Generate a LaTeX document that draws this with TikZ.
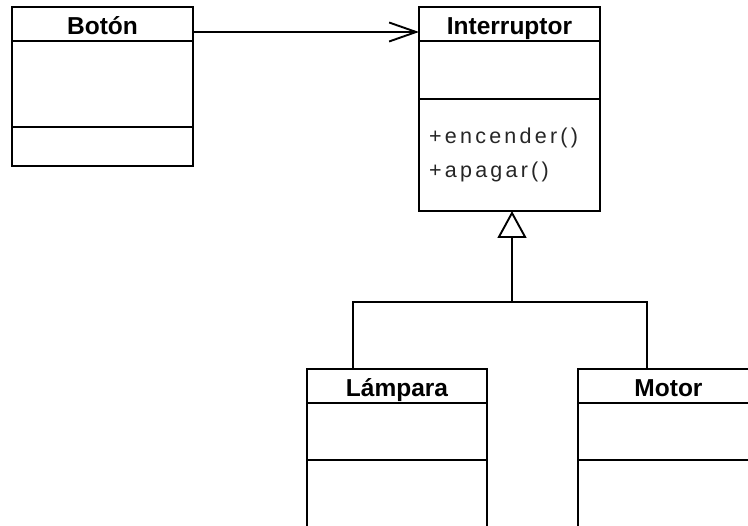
\documentclass[tikz,border=0pt]{standalone}
\usepackage{fontspec}
\setmainfont{Liberation Sans}
\newfontfamily\opfont[LetterSpace=15]{Liberation Sans}
\usetikzlibrary{arrows.meta}
\tikzset{
  classbox/.style={draw=black, line width=1.9pt, rectangle, outer sep=0pt,
    inner sep=0pt, anchor=north west},
  classname/.style={font=\bfseries\fontsize{24.5}{29}\selectfont, anchor=base,
    inner sep=0pt},
  operation/.style={font=\opfont\fontsize{21.5}{25}\selectfont, anchor=base west,
    inner sep=0pt, text=black!85},
  divider/.style={line width=1.9pt},
  assoc/.style={line width=1.9pt, -{Straight Barb[length=27pt,width=19pt]}},
  generalization/.style={line width=1.9pt, line join=miter,
    -{Triangle[open,length=27pt,width=29pt]}},
  branch/.style={line width=1.9pt, line join=miter},
}
\begin{document}
\begin{tikzpicture}[x=1pt,y=-1pt]
\useasboundingbox (0,0) rectangle (748,526);
\clip (0,0) rectangle (748,526);
\fill[white] (0,0) rectangle (748,526);

% class boxes
\node[classbox, minimum width=181pt, minimum height=159pt] (boton) at (12,7) {};
\node[classbox, minimum width=181pt, minimum height=204pt] (interruptor) at (419,7) {};
\node[classbox, minimum width=180pt, minimum height=200pt] (lampara) at (307,369) {};
\node[classbox, minimum width=181pt, minimum height=200pt] (motor) at (578,369) {};

% compartment dividers
\draw[divider] ([yshift=-34pt]boton.north west) -- ([yshift=-34pt]boton.north east);
\draw[divider] ([yshift=-120pt]boton.north west) -- ([yshift=-120pt]boton.north east);
\draw[divider] ([yshift=-34pt]interruptor.north west) -- ([yshift=-34pt]interruptor.north east);
\draw[divider] ([yshift=-92pt]interruptor.north west) -- ([yshift=-92pt]interruptor.north east);
\draw[divider] ([yshift=-34pt]lampara.north west) -- ([yshift=-34pt]lampara.north east);
\draw[divider] ([yshift=-91pt]lampara.north west) -- ([yshift=-91pt]lampara.north east);
\draw[divider] ([yshift=-34pt]motor.north west) -- ([yshift=-34pt]motor.north east);
\draw[divider] ([yshift=-91pt]motor.north west) -- ([yshift=-91pt]motor.north east);

% class names
\node[classname] (botonName) at ([yshift=-28pt]boton.north) {Botón};
\node[classname] (interruptorName) at ([yshift=-28pt]interruptor.north) {Interruptor};
\node[classname] (lamparaName) at ([yshift=-28pt]lampara.north) {Lámpara};
\node[classname] (motorName) at ([yshift=-28pt]motor.north) {Motor};

% operations
\node[operation] (opOn) at ([xshift=10pt,yshift=-137pt]interruptor.north west) {+encender()};
\node[operation] (opOff) at ([xshift=10pt,yshift=-171pt]interruptor.north west) {+apagar()};

% association
\draw[assoc] ([yshift=-25pt]boton.north east) -- ([yshift=-25pt]interruptor.north west);

% generalization
\coordinate (apex) at ([xshift=2.5pt]interruptor.south);
\coordinate (lampTop) at ([xshift=46pt]lampara.north west);
\coordinate (motorTop) at ([xshift=69pt]motor.north west);
\coordinate (joint) at (apex |- 0,302);
\draw[branch] (lampTop) |- (joint);
\draw[branch] (motorTop) |- (joint);
\draw[generalization] (joint) -- (apex);
\end{tikzpicture}
\end{document}
